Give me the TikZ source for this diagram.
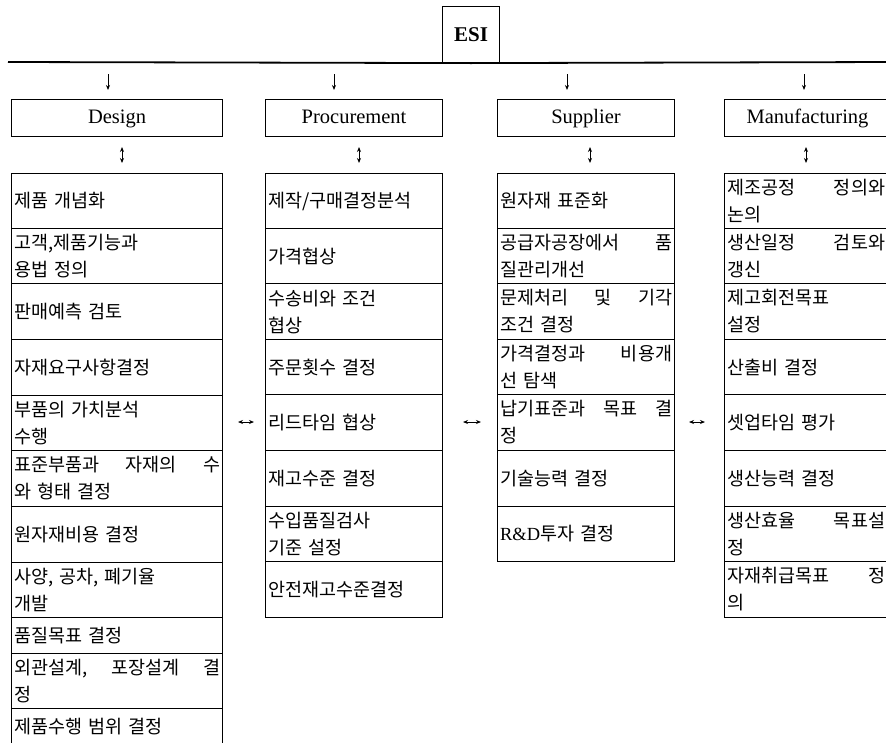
\documentclass[tikz,border=0pt]{standalone}
\usepackage{fontspec}
\setmainfont{Liberation Serif}
\newfontfamily\kr[WordSpace=2.2]{Noto Sans CJK KR}
\usetikzlibrary{arrows.meta}
\newcommand{\jline}[2]{\hbox to #1{#2}}
\tikzset{
  boxline/.style={draw, line width=1.1pt},
  cellbox/.style={boxline, anchor=north west, inner xsep=2.5pt, inner ysep=0pt, align=left,
    font=\kr\fontsize{18.5pt}{27pt}\selectfont},
  dcol/.style={cellbox, text width=206pt},
  pcol/.style={cellbox, text width=172pt},
  scol/.style={cellbox, text width=172pt},
  mcol/.style={cellbox, text width=158pt},
  hdr/.style={boxline, anchor=north west, inner sep=0pt, minimum height=37pt,
    text height=14pt, text depth=4pt,
    font=\fontsize{20.5pt}{24pt}\selectfont},
  arr/.style={line width=1pt, -{Stealth[length=5pt,width=4pt]}},
  darr/.style={line width=1pt, {Stealth[length=5pt,width=4pt]}-{Stealth[length=5pt,width=4pt]}},
}
\begin{document}
\begin{tikzpicture}[x=1pt,y=-1pt]
\clip (0,0) rectangle (886,742);
% ESI and main line
\node[boxline, anchor=north west, inner sep=0pt, minimum width=57pt, minimum height=56pt,
  font=\bfseries\fontsize{21pt}{25pt}\selectfont] (esi) at (442,6) {ESI};
\coordinate (L) at (8,62);
\coordinate (R) at (892,62);
\draw[line width=1.8pt] (L) -- (esi.south) -- (R);

% headers
\node[hdr, minimum width=211pt] (design) at (11,99) {Design};
\node[hdr, minimum width=177pt] (proc) at (265,99) {Procurement};
\node[hdr, minimum width=177pt] (supp) at (497,99) {Supplier};
\node[hdr, minimum width=166pt] (manu) at (724,99) {Manufacturing};

% down arrows
\foreach \n/\x in {1/108,2/334,3/567,4/804}{
  \coordinate (da\n) at (\x,74);
  \coordinate (db\n) at (\x,90);
  \draw[arr] (da\n) -- (db\n);
}
% vertical double arrows
\foreach \n/\x in {1/122,2/359,3/590,4/806}{
  \coordinate (va\n) at (\x,147);
  \coordinate (vb\n) at (\x,163);
  \draw[darr] (va\n) -- (vb\n);
}

% Design column
\node[dcol, minimum height=55pt] (d1) at (11,173) {제품 개념화};
\node[dcol, minimum height=55pt] (d2) at (11,228) {고객,제품기능과\\용법 정의};
\node[dcol, minimum height=56pt] (d3) at (11,283) {판매예측 검토};
\node[dcol, minimum height=56pt] (d4) at (11,339) {자재요구사항결정};
\node[dcol, minimum height=55pt] (d5) at (11,395) {부품의 가치분석\\수행};
\node[dcol, minimum height=56pt] (d6) at (11,450) {\jline{206pt}{표준부품과\hfill 자재의\hfill 수}\\와 형태 결정};
\node[dcol, minimum height=56pt] (d7) at (11,506) {원자재비용 결정};
\node[dcol, minimum height=55pt] (d8) at (11,562) {사양, 공차, 폐기율\\개발};
\node[dcol, minimum height=36pt] (d9) at (11,617) {품질목표 결정};
\node[dcol, minimum height=55pt] (d10) at (11,653) {\jline{206pt}{외관설계,\hfill 포장설계\hfill 결}\\정};
\node[dcol, minimum height=36pt] (d11) at (11,708) {제품수행 범위 결정};

% Procurement column
\node[pcol, minimum height=55pt] (p1) at (265,173) {제작/구매결정분석};
\node[pcol, minimum height=55pt] (p2) at (265,228) {가격협상};
\node[pcol, minimum height=56pt] (p3) at (265,283) {수송비와 조건\\협상};
\node[pcol, minimum height=55pt] (p4) at (265,339) {주문횟수 결정};
\node[pcol, minimum height=56pt] (p5) at (265,394) {리드타임 협상};
\node[pcol, minimum height=56pt] (p6) at (265,450) {재고수준 결정};
\node[pcol, minimum height=55pt] (p7) at (265,506) {수입품질검사\\기준 설정};
\node[pcol, minimum height=56pt] (p8) at (265,561) {안전재고수준결정};

% Supplier column
\node[scol, minimum height=55pt] (s1) at (497,173) {원자재 표준화};
\node[scol, minimum height=55pt] (s2) at (497,228) {\jline{172pt}{공급자공장에서\hfill 품}\\질관리개선};
\node[scol, minimum height=56pt] (s3) at (497,283) {\jline{172pt}{문제처리\hfill 및\hfill 기각}\\조건 결정};
\node[scol, minimum height=55pt] (s4) at (497,339) {\jline{172pt}{가격결정과\hfill 비용개}\\선 탐색};
\node[scol, minimum height=56pt] (s5) at (497,394) {\jline{172pt}{납기표준과\hfill 목표\hfill 결}\\정};
\node[scol, minimum height=56pt] (s6) at (497,450) {기술능력 결정};
\node[scol, minimum height=55pt] (s7) at (497,506) {{\rmfamily R\&D}투자 결정};

% Manufacturing column
\node[mcol, minimum height=55pt] (m1) at (724,173) {\jline{158pt}{제조공정\hfill 정의와}\\논의};
\node[mcol, minimum height=55pt] (m2) at (724,228) {\jline{158pt}{생산일정\hfill 검토와}\\갱신};
\node[mcol, minimum height=56pt] (m3) at (724,283) {제고회전목표\\설정};
\node[mcol, minimum height=55pt] (m4) at (724,339) {산출비 결정};
\node[mcol, minimum height=56pt] (m5) at (724,394) {셋업타임 평가};
\node[mcol, minimum height=56pt] (m6) at (724,450) {생산능력 결정};
\node[mcol, minimum height=55pt] (m7) at (724,506) {\jline{158pt}{생산효율\hfill 목표설}\\정};
\node[mcol, minimum height=56pt] (m8) at (724,561) {\jline{158pt}{자재취급목표\hfill 정}\\의};

% horizontal double arrows
\coordinate (h1a) at (238,422); \coordinate (h1b) at (254,422);
\coordinate (h2a) at (463,422); \coordinate (h2b) at (481,422);
\coordinate (h3a) at (689,422); \coordinate (h3b) at (705,422);
\draw[darr] (h1a) -- (h1b);
\draw[darr] (h2a) -- (h2b);
\draw[darr] (h3a) -- (h3b);
\end{tikzpicture}
\end{document}
